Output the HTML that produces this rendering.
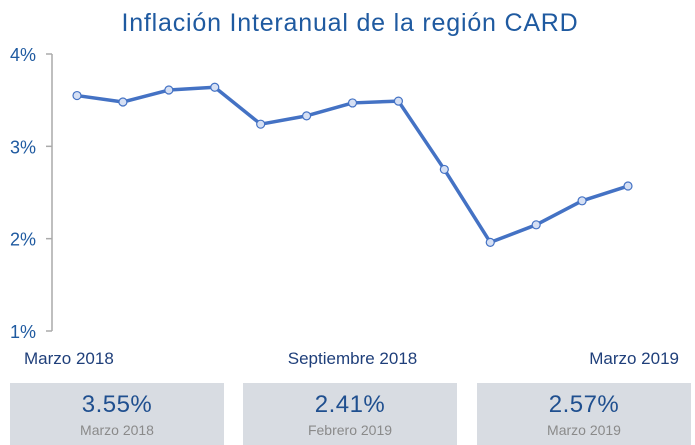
<!DOCTYPE html>
<html><head><meta charset="utf-8"><style>
body{margin:0;width:695px;height:445px;background:#fff;font-family:"Liberation Sans",sans-serif;overflow:hidden;position:relative}
.box{position:absolute;top:383px;width:214px;height:62px;background:#d8dce2;text-align:center}
.v{color:#1f4f8f;font-size:24px;margin-top:8px;letter-spacing:0.5px}
.l{color:#8a8a8a;font-size:14px;margin-top:3px}
</style></head><body>
<svg width="695" height="380" style="position:absolute;left:0;top:0">
<text x="350" y="31" text-anchor="middle" font-size="25" letter-spacing="0.8" fill="#1f5aa0" font-family="Liberation Sans, sans-serif">Inflación Interanual de la región CARD</text>
<g id="axis"></g><g id="series"></g>
</svg>
<div class="box" style="left:10px"><div class="v">3.55%</div><div class="l">Marzo 2018</div></div>
<div class="box" style="left:243px"><div class="v">2.41%</div><div class="l">Febrero 2019</div></div>
<div class="box" style="left:477px"><div class="v">2.57%</div><div class="l">Marzo 2019</div></div>
<script>
const categories=["Mar 2018","Abr 2018","May 2018","Jun 2018","Jul 2018","Ago 2018","Sep 2018","Oct 2018","Nov 2018","Dic 2018","Ene 2019","Feb 2019","Mar 2019"];
const values=[3.55,3.48,3.61,3.64,3.24,3.33,3.47,3.49,2.75,1.96,2.15,2.41,2.57];
const yTicks=[1,2,3,4];
const xLabels=[[0,"Marzo 2018"],[6,"Septiembre 2018"],[12,"Marzo 2019"]];
const NS="http://www.w3.org/2000/svg";
const x=i=>77+i*(628-77)/(categories.length-1);
const y=v=>331-(v-1)*(331-54)/3;
function mk(t,a,p){const e=document.createElementNS(NS,t);for(const k in a)e.setAttribute(k,a[k]);p.appendChild(e);return e;}
const ax=document.getElementById('axis'),se=document.getElementById('series');
const al=mk('line',{x1:52,x2:52,y1:y(4),y2:y(1),stroke:'#aaa','stroke-width':1.5},ax);


yTicks.forEach(t=>{
 const tk=mk('line',{x1:46,x2:52,y1:y(t),y2:y(t),stroke:'#aaa','stroke-width':1.5},ax);
 
 
 const tx=mk('text',{x:36,y:y(t)+7,'text-anchor':'end','font-size':18,fill:'#1f5aa0'},ax);
 tx.textContent=t+'%';
 
 
});
xLabels.forEach(([i,s],k)=>{
 const anc=k==0?'start':k==2?'end':'middle';
 const xx=k==0?24:k==2?679:x(i);
 const tx=mk('text',{x:xx,y:364,'text-anchor':anc,'font-size':17,fill:'#1f3f7a'},ax);
 tx.textContent=s;
 
 
});
const ln=mk('polyline',{points:values.map((v,i)=>x(i)+','+y(v)).join(' '),fill:'none',stroke:'#4472c4','stroke-width':3.5,'stroke-linejoin':'round'},se);


values.forEach((v,i)=>{
 const c=mk('circle',{cx:x(i),cy:y(v),r:4,fill:'#d6e0f4',stroke:'#4472c4','stroke-width':1.2},se);
 
 
});
</script>
</body></html>
